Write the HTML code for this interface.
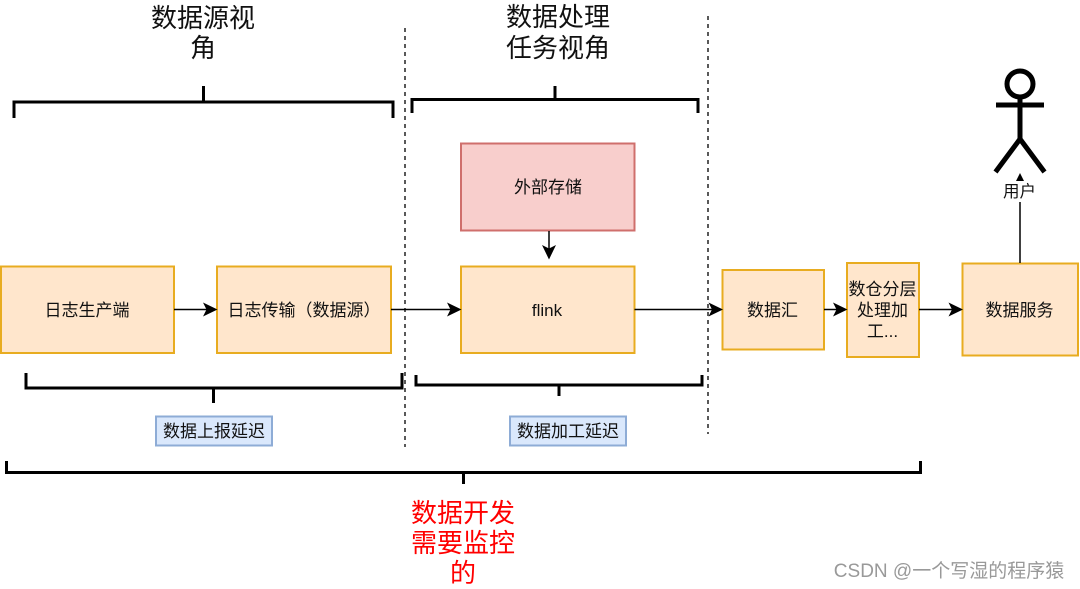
<!DOCTYPE html>
<html lang="zh">
<head>
<meta charset="utf-8">
<style>
html,body{margin:0;padding:0;background:#fff;width:1080px;height:589px;overflow:hidden}
svg{display:block;filter:blur(0.35px)}
text{font-family:"Liberation Sans","Noto Sans CJK SC",sans-serif;text-anchor:middle;fill:#111}
.t{font-size:26px}
.b{font-size:17px}
.r{font-size:26px;fill:#ff0000}
.br{fill:none;stroke:#000;stroke-width:3}
.ln{fill:none;stroke:#000;stroke-width:1.5}
.o{fill:#ffe6cc;stroke:#e8ac20;stroke-width:2}
.dash{stroke:#222;stroke-width:1.5;stroke-dasharray:4 4;fill:none}
</style>
</head>
<body>
<svg width="1080" height="589" viewBox="0 0 1080 589" xmlns="http://www.w3.org/2000/svg">
<rect width="1080" height="589" fill="#fff"/>

<text class="t" x="203" y="27">数据源视</text>
<text class="t" x="203" y="57">角</text>
<text class="t" x="558" y="26">数据处理</text>
<text class="t" x="558" y="57">任务视角</text>

<path class="br" d="M14 118V102H393V118M203.500 86V102"/>
<path class="br" d="M412 113V99.500H698V113M555 86V99.500"/>

<line class="dash" x1="405" y1="28" x2="405" y2="447"/>
<line class="dash" x1="708" y1="16" x2="708" y2="434"/>

<rect x="461" y="143.500" width="173.500" height="87" fill="#f8cecc" stroke="#cf6f6c" stroke-width="2"/>
<text class="b" x="548" y="193">外部存储</text>

<rect class="o" x="1" y="266.500" width="173" height="86.500"/>
<text class="b" x="87" y="316">日志生产端</text>
<rect class="o" x="217" y="266.500" width="174" height="86.500"/>
<text class="b" x="304" y="316">日志传输（数据源）</text>
<rect class="o" x="461" y="266.500" width="173.500" height="86.500"/>
<text class="b" x="547" y="316">flink</text>
<rect class="o" x="722.500" y="270" width="101.500" height="79.500"/>
<text class="b" x="772.500" y="316">数据汇</text>
<rect class="o" x="847" y="263" width="72" height="94"/>
<text class="b" x="882.500" y="295">数仓分层</text>
<text class="b" x="882.500" y="316">处理加</text>
<text class="b" x="882.500" y="337">工...</text>
<rect class="o" x="962.500" y="263.500" width="115.500" height="92"/>
<text class="b" x="1019.500" y="316">数据服务</text>

<path class="ln" d="M174 309.500H208"/>
<path d="M217.500 309.500L203 302.500L206.500 309.500L203 316.500Z" fill="#000"/>
<path class="ln" d="M391 309.500H452"/>
<path d="M461.500 309.500L447 302.500L450.500 309.500L447 316.500Z" fill="#000"/>
<path class="ln" d="M634.500 309.500H713"/>
<path d="M723 309.500L708.500 302.500L712 309.500L708.500 316.500Z" fill="#000"/>
<path class="ln" d="M824 309.500H838"/>
<path d="M847.500 309.500L833 302.500L836.500 309.500L833 316.500Z" fill="#000"/>
<path class="ln" d="M919 309.500H953"/>
<path d="M963 309.500L948.500 302.500L952 309.500L948.500 316.500Z" fill="#000"/>
<path class="ln" d="M549 231V250"/>
<path d="M549 259.500L542 245L549 248.500L556 245Z" fill="#000"/>

<path class="ln" d="M1020 202V263"/>
<path d="M1020 173L1016 181H1024Z" fill="#000"/>
<text x="1019.500" y="197" style="font-size:16.500px">用户</text>

<circle cx="1020" cy="84" r="13" fill="#fff" stroke="#000" stroke-width="5"/>
<path d="M1020 98V139M996 105H1044M995.500 172L1020 139L1044.500 172" fill="none" stroke="#000" stroke-width="5"/>

<path class="br" d="M26 373V388H402V373M213.500 388V403"/>
<path class="br" d="M416 375V385H702V375M559 385V396"/>
<path class="br" d="M6.500 461V472.500H920.500V461M463.500 472.500V484"/>

<rect x="156" y="416.500" width="116" height="29" fill="#dae8fc" stroke="#8eacd6" stroke-width="2"/>
<text x="214" y="437" style="font-size:17px">数据上报延迟</text>
<rect x="510" y="416.500" width="116" height="29" fill="#dae8fc" stroke="#8eacd6" stroke-width="2"/>
<text x="568" y="437" style="font-size:17px">数据加工延迟</text>

<text class="r" x="463" y="522">数据开发</text>
<text class="r" x="463" y="552">需要监控</text>
<text class="r" x="463" y="582">的</text>

<text x="949" y="577" style="font-size:19px;fill:#999">CSDN @一个写湿的程序猿</text>
</svg>
</body>
</html>
